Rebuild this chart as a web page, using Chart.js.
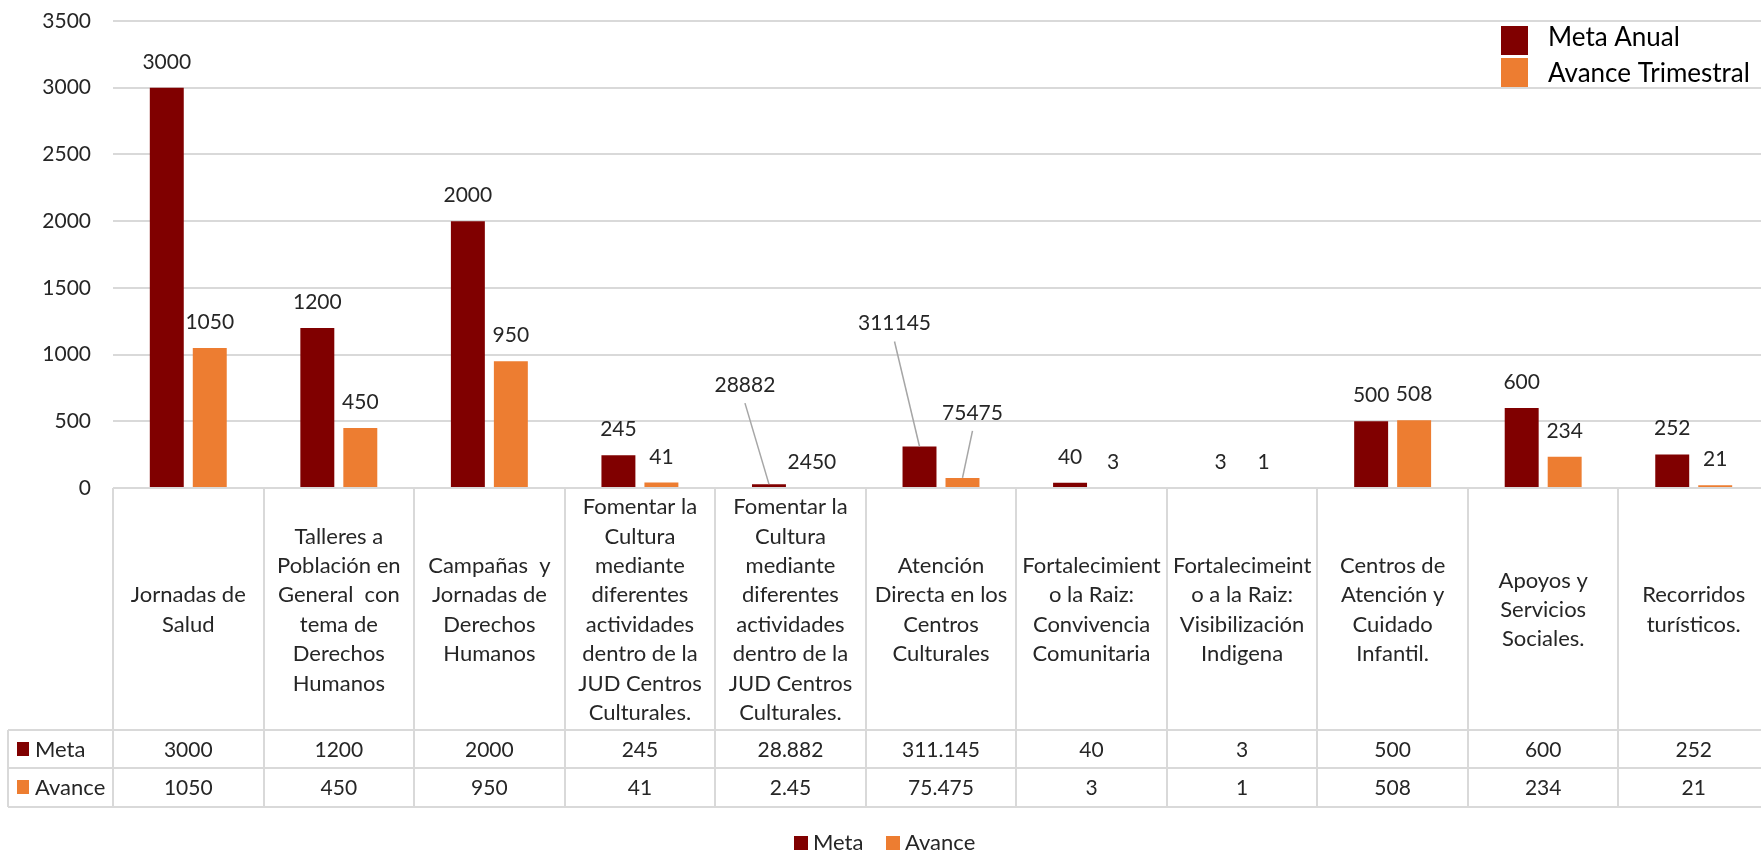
<!DOCTYPE html>
<html>
<head>
<meta charset="utf-8">
<script src="https://cdn.jsdelivr.net/npm/chart.js@4"></script>
<style>
html, body { margin: 0; padding: 0; background: #fff; overflow: hidden; }
canvas { display: block; }
</style>
</head>
<body>
<canvas id="chart" width="1770" height="851"></canvas>
<script>
const categories = [
    ['Jornadas de', 'Salud'],
    ['Talleres a', 'Población en', 'General  con', 'tema de', 'Derechos', 'Humanos'],
    ['Campañas  y', 'Jornadas de', 'Derechos', 'Humanos'],
    ['Fomentar la', 'Cultura', 'mediante', 'diferentes', 'actividades', 'dentro de la', 'JUD Centros', 'Culturales.'],
    ['Fomentar la', 'Cultura', 'mediante', 'diferentes', 'actividades', 'dentro de la', 'JUD Centros', 'Culturales.'],
    ['Atención', 'Directa en los', 'Centros', 'Culturales'],
    ['Fortalecimient', 'o la Raiz:', 'Convivencia', 'Comunitaria'],
    ['Fortalecimeint', 'o a la Raiz:', 'Visibilización', 'Indigena'],
    ['Centros de', 'Atención y', 'Cuidado', 'Infantil.'],
    ['Apoyos y', 'Servicios', 'Sociales.'],
    ['Recorridos', 'turísticos.']
];
const seriesNames = ['Meta', 'Avance'];
const legendNames = ['Meta Anual', 'Avance Trimestral'];
const metaValues = [3000, 1200, 2000, 245, 28.882, 311.145, 40, 3, 500, 600, 252];
const avanceValues = [1050, 450, 950, 41, 2.45, 75.475, 3, 1, 508, 234, 21];
const yTicks = [0, 500, 1000, 1500, 2000, 2500, 3000, 3500];

const colors = ['#800000', '#ED7D31'];
const FONT = 'Lato, "Liberation Sans", sans-serif';
const TEXT = '#262626';
const GRID = '#d9d9d9';

// the bar labels in the original drop the decimal point (28.882 -> 28882)
function labelText(v) {
    return Number.isInteger(v) ? String(v) : String(Math.round(v * 1000));
}

// labels that were moved away from their bar, with a leader line
const labelOffsets = { '0-4': [-24, -92], '0-5': [-25, -116], '1-5': [10, -58] };

const valueLabels = {
    id: 'valueLabels',
    afterDatasetsDraw(chart) {
        const ctx = chart.ctx;
        ctx.save();
        ctx.font = '21px ' + FONT;
        ctx.textAlign = 'center';
        ctx.textBaseline = 'alphabetic';
        chart.data.datasets.forEach((ds, di) => {
            chart.getDatasetMeta(di).data.forEach((bar, i) => {
                const off = labelOffsets[di + '-' + i];
                let x = bar.x, y = bar.y - 19;
                if (off) {
                    x = bar.x + off[0];
                    y = bar.y + off[1];
                    ctx.strokeStyle = '#a6a6a6';
                    ctx.lineWidth = 1.5;
                    ctx.beginPath();
                    ctx.moveTo(x, y + 11);
                    ctx.lineTo(bar.x, bar.y);
                    ctx.stroke();
                }
                ctx.fillStyle = TEXT;
                ctx.fillText(labelText(ds.data[i]), x, y);
            });
        });
        ctx.restore();
    }
};

const dataTable = {
    id: 'dataTable',
    afterDraw(chart) {
        const ctx = chart.ctx;
        const xs = chart.scales.x;
        const n = categories.length;
        const w = xs.width / n;
        const top = chart.chartArea.bottom;
        const rowTop = 730, rowMid = 768, rowBottom = 807, tableLeft = 8;
        const right = chart.width;

        ctx.save();
        ctx.strokeStyle = GRID;
        ctx.lineWidth = 2;
        ctx.beginPath();
        for (let k = 0; k <= n; k++) {
            const x = Math.round(xs.left + k * w);
            ctx.moveTo(x, top);
            ctx.lineTo(x, rowBottom);
        }
        ctx.moveTo(xs.left, top); ctx.lineTo(right, top);
        [rowTop, rowMid, rowBottom].forEach(y => {
            ctx.moveTo(tableLeft, y);
            ctx.lineTo(right, y);
        });
        ctx.moveTo(tableLeft, rowTop); ctx.lineTo(tableLeft, rowBottom);
        ctx.stroke();

        // category names
        ctx.fillStyle = TEXT;
        ctx.textAlign = 'center';
        ctx.textBaseline = 'alphabetic';
        ctx.font = '22px ' + FONT;
        const lh = 29.4;
        const cellMid = (top + rowTop) / 2 + 8;
        categories.forEach((lines, i) => {
            const cx = xs.getPixelForValue(i);
            const y0 = cellMid - (lines.length - 1) * lh / 2;
            lines.forEach((t, j) => ctx.fillText(t, cx, y0 + j * lh));
        });

        // values
        ctx.font = '21px ' + FONT;
        const baselines = [757, 795];
        chart.data.datasets.forEach((ds, di) => {
            ds.data.forEach((v, i) => {
                ctx.fillText(String(v), xs.getPixelForValue(i), baselines[di]);
            });
        });

        // row headers
        ctx.textAlign = 'left';
        ctx.font = '22px ' + FONT;
        seriesNames.forEach((name, di) => {
            ctx.fillStyle = colors[di];
            ctx.fillRect(17, baselines[di] - 15, 12, 14);
            ctx.fillStyle = TEXT;
            ctx.fillText(name, 35, baselines[di]);
        });

        // bottom legend
        [794, 886].forEach((lx, di) => {
            ctx.fillStyle = colors[di];
            ctx.fillRect(lx, 836, 14, 14);
            ctx.fillStyle = TEXT;
            ctx.fillText(seriesNames[di], lx + 19, 850);
        });

        // top right legend
        ctx.font = '26px ' + FONT;
        legendNames.forEach((name, di) => {
            ctx.fillStyle = colors[di];
            ctx.fillRect(1501, 26 + di * 32, 27, 29);
            ctx.fillStyle = '#000';
            ctx.fillText(name, 1548, 46 + di * 36);
        });
        ctx.restore();
    }
};

new Chart(document.getElementById('chart'), {
    type: 'bar',
    data: {
        labels: categories,
        datasets: [
            {
                label: seriesNames[0],
                data: metaValues,
                backgroundColor: colors[0],
                barPercentage: 0.79,
                categoryPercentage: 0.571
            },
            {
                label: seriesNames[1],
                data: avanceValues,
                backgroundColor: colors[1],
                barPercentage: 0.79,
                categoryPercentage: 0.571
            }
        ]
    },
    options: {
        responsive: false,
        animation: false,
        devicePixelRatio: 1,
        layout: { padding: { left: 0, top: 21, right: 1, bottom: 363 } },
        plugins: { legend: { display: false }, tooltip: { enabled: false } },
        scales: {
            x: { display: false },
            y: {
                min: yTicks[0],
                max: yTicks[yTicks.length - 1],
                afterFit: s => { s.width = 113; s.paddingTop = 0; s.paddingBottom = 0; },
                afterBuildTicks: s => { s.ticks = yTicks.map(v => ({ value: v })); },
                border: { display: false },
                grid: { color: GRID, lineWidth: 2, drawTicks: false },
                ticks: {
                    padding: 22,
                    color: TEXT,
                    font: { family: FONT, size: 21 },
                    callback: v => String(v)
                }
            }
        }
    },
    plugins: [valueLabels, dataTable]
});
</script>
</body>
</html>
